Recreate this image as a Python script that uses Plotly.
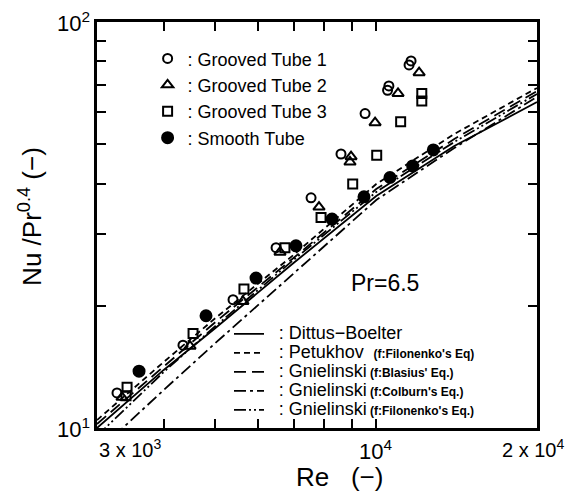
import plotly.graph_objects as go

# ---------------- data ----------------
re_gt1 = [11620, 11520, 10560, 10500, 9530, 8590, 7550, 6493, 5393, 4346, 3270]
nu_gt1 = [80.2, 78.4, 69.6, 67.9, 59.5, 47.3, 36.9, 27.8, 20.7, 16.0, 12.2]

re_gt2 = [12030, 10985, 9950, 8970, 8930, 7813, 6604, 5628, 4480, 3342]
nu_gt2 = [75.0, 66.7, 56.5, 46.6, 45.2, 35.0, 27.1, 20.5, 15.9, 11.9]

re_gt3 = [12170, 12170, 11110, 10020, 9035, 7882, 6746, 5653, 4539, 3415, 3400]
nu_gt3 = [66.7, 63.9, 56.8, 47.0, 39.9, 33.0, 27.8, 22.0, 17.1, 12.6, 12.0]

re_smooth = [12790, 11700, 10610, 9486, 8265, 7075, 5955, 4800, 3596]
nu_smooth = [48.4, 44.2, 41.4, 37.1, 32.7, 28.1, 23.4, 18.9, 13.8]

re_line = [3000, 4000, 5000, 7000, 10000, 14000, 20000]
nu_dittus = [10.0, 13.90, 17.63, 25.49, 37.27, 49.5, 63.5]
nu_petukhov = [10.46, 14.54, 18.66, 26.68, 39.90, 52.98, 68.8]
nu_gn_blasius = [10.23, 14.21, 18.24, 26.23, 38.78, 51.50, 67.6]
nu_gn_colburn = [8.73, 12.41, 16.20, 23.95, 36.44, 48.94, 65.4]
nu_gn_filonenko = [9.56, 13.74, 17.83, 25.94, 38.13, 50.63, 66.5]

NB = "\u00a0"
marker_names = [": Grooved Tube 1", ": Grooved Tube 2", ": Grooved Tube 3", ": Smooth Tube"]


def big(t):
    return '<span style="font-size:18px">' + t + '</span>'


def small(t):
    return '<span style="font-size:12px;font-weight:bold">' + t + '</span>'


line_names = [
    NB * 3 + big(": Dittus\u2212Boelter"),
    NB * 3 + big(": Petukhov") + NB * 3 + small("(f:Filonenko's Eq)"),
    NB * 3 + big(": Gnielinski") + NB + small("(f:Blasius' Eq.)"),
    NB * 3 + big(": Gnielinski") + NB + small("(f:Colburn's Eq.)"),
    NB * 3 + big(": Gnielinski") + NB + small("(f:Filonenko's Eq.)"),
]

FONT = "Liberation Sans, Arial, sans-serif"

fig = go.Figure()

# lines
line_sets = [
    (nu_dittus, "solid"),
    (nu_petukhov, "6px,4px"),
    (nu_gn_blasius, "12px,6px"),
    (nu_gn_colburn, "12px,4px,3px,4px"),
    (nu_gn_filonenko, "12px,3px,2px,3px,2px,3px"),
]
for i, (vals, dash) in enumerate(line_sets):
    fig.add_trace(go.Scatter(
        x=re_line, y=vals, mode="lines", name=line_names[i],
        line=dict(color="black", width=1.8, dash=dash),
        legend="legend2", legendgroup="l%d" % i, showlegend=True,
    ))

# markers
marker_sets = [
    (re_gt1, nu_gt1, "circle-open", 9),
    (re_gt2, nu_gt2, "triangle-up-open", 10),
    (re_gt3, nu_gt3, "square-open", 9),
    (re_smooth, nu_smooth, "circle", 11),
]
for i, (xs, ys, sym, sz) in enumerate(marker_sets):
    fig.add_trace(go.Scatter(
        x=xs, y=ys, mode="markers", name=marker_names[i],
        marker=dict(symbol=sym, size=sz, color="black",
                    line=dict(color="black", width=2)),
        legend="legend", legendgroup="m%d" % i,
    ))

fig.update_layout(
    width=569, height=499,
    margin=dict(l=97, r=32, t=22, b=71),
    paper_bgcolor="white", plot_bgcolor="white",
    font=dict(family=FONT, color="black", size=18),
    legend=dict(x=0.115, y=0.955, xanchor="left", yanchor="top",
                bgcolor="rgba(0,0,0,0)", font=dict(size=18, family=FONT),
                tracegroupgap=0, itemwidth=30),
    legend2=dict(x=0.30, y=0.138, xanchor="left", yanchor="middle",
                 bgcolor="rgba(0,0,0,0)", font=dict(size=11.6, family=FONT),
                 tracegroupgap=0, itemwidth=30),
    xaxis=dict(type="log", range=[3.4771, 4.30103],
               tickvals=[4000, 5000, 6000, 7000, 8000, 9000, 10000],
               showticklabels=False, ticks="inside", ticklen=9, tickwidth=2,
               tickcolor="black", showline=True, linecolor="black", linewidth=2.5,
               mirror="allticks", showgrid=False, zeroline=False),
    yaxis=dict(type="log", range=[1, 2],
               tickvals=[20, 30, 40, 50, 60, 70, 80, 90],
               showticklabels=False, ticks="inside", ticklen=9, tickwidth=2,
               tickcolor="black", showline=True, linecolor="black", linewidth=2.5,
               mirror="allticks", showgrid=False, zeroline=False),
)

ann = [
    dict(text="10<sup>2</sup>", x=-0.012, y=1.0, xanchor="right", yanchor="middle", font=dict(size=22)),
    dict(text="10<sup>1</sup>", x=-0.012, y=0.0, xanchor="right", yanchor="middle", font=dict(size=22)),
    dict(text="3 x 10<sup>3</sup>", x=0.0, y=-0.015, xanchor="left", yanchor="top", font=dict(size=20)),
    dict(text="10<sup>4</sup>", x=0.633, y=-0.015, xanchor="center", yanchor="top", font=dict(size=22)),
    dict(text="2 x 10<sup>4</sup>", x=1.066, y=-0.015, xanchor="right", yanchor="top", font=dict(size=20)),
    dict(text="Re" + NB * 3 + "(\u2212)", x=0.55, y=-0.08, xanchor="center", yanchor="top", font=dict(size=26)),
    dict(text="Nu /Pr<sup>0.4</sup> (\u2212)", x=-0.15, y=0.52, xanchor="center", yanchor="middle",
         textangle=-90, font=dict(size=26)),
    dict(text="Pr=6.5", x=0.655, y=0.357, xanchor="center", yanchor="middle", font=dict(size=23)),
]
for a in ann:
    a.update(xref="paper", yref="paper", showarrow=False)
fig.update_layout(annotations=ann)

fig.write_html("out.html")
